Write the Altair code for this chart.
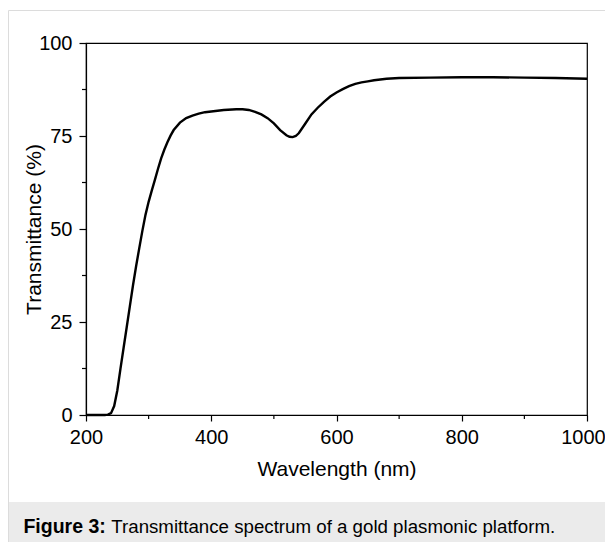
import altair as alt
import pandas as pd

# Data
wavelength = [200, 210, 220, 230, 235, 240, 245, 250, 255, 260, 265, 270, 275, 280,
              285, 290, 295, 300, 305, 310, 315, 320, 325, 330, 335, 340, 350, 360,
              370, 380, 390, 400, 420, 440, 450, 460, 470, 480, 490, 500, 510, 520,
              525, 530, 535, 540, 550, 560, 570, 580, 590, 600, 610, 620, 630, 640,
              650, 660, 680, 700, 750, 800, 850, 900, 950, 1000]
transmittance = [0, 0, 0, 0, 0.1, 0.5, 2.4, 6.6, 12.4, 18.0, 23.6, 29.2, 34.8, 40.0,
                 44.8, 49.5, 53.8, 57.3, 60.3, 63.2, 66.2, 69.0, 71.3, 73.3, 75.1, 76.6, 78.6, 79.8,
                 80.5, 81.0, 81.4, 81.6, 82.0, 82.2, 82.2, 82.0, 81.5, 80.8, 79.8, 78.4, 76.6, 75.2,
                 74.8, 74.7, 75.0, 75.8, 78.3, 80.8, 82.6, 84.2, 85.6, 86.7, 87.6, 88.4, 89.0, 89.4,
                 89.7, 90.0, 90.4, 90.6, 90.7, 90.8, 90.8, 90.7, 90.6, 90.4]

x_major = [200, 400, 600, 800, 1000]
x_minor = [300, 500, 700, 900]
y_major = [0, 25, 50, 75, 100]
y_minor = [12.5, 37.5, 62.5, 87.5]

x_title = "Wavelength (nm)"
y_title = "Transmittance (%)"
caption_bold = "Figure 3:"
caption_text = "Transmittance spectrum of a gold plasmonic platform."

FONT = "Liberation Sans"
W, H = 501, 372
PAD_L, PAD_T = 78, 35
CANVAS_W, CANVAS_H = 597, 534
PAD_R = CANVAS_W - PAD_L - W
PAD_B = CANVAS_H - PAD_T - H

df = pd.DataFrame({"wl": wavelength, "T": transmittance})
xs = alt.Scale(domain=[200, 1000], nice=False, zero=False)
ys = alt.Scale(domain=[0, 100], nice=False)

xaxis = alt.Axis(
    values=x_major, title=x_title, tickSize=6, labelPadding=6, format="d",
    labelFlush=False, labelOverlap=False, labelBound=False,
    labelOffset=alt.ExprRef("datum.value == 1000 ? -4 : 0"),
    titleX=W / 2, titleY=60.5, titleBaseline="alphabetic", titleAlign="center")
yaxis = alt.Axis(
    values=y_major, title=y_title, tickSize=7, labelPadding=7, format="d",
    labelFlush=False, labelOverlap=False, labelBound=False,
    titleX=-46, titleY=H / 2, titleAngle=270, titleBaseline="alphabetic",
    titleAlign="center")

line = alt.Chart(df).mark_line(color="black", strokeWidth=2.4).encode(
    x=alt.X("wl:Q", scale=xs, axis=xaxis),
    y=alt.Y("T:Q", scale=ys, axis=yaxis),
)

minor_x = alt.Chart(pd.DataFrame({"wl": x_minor})).mark_rule(
    color="black", strokeWidth=1.2).encode(
    x=alt.X("wl:Q", scale=xs, axis=xaxis),
    y=alt.value(H), y2=alt.value(H + 4))

minor_y = alt.Chart(pd.DataFrame({"T": y_minor})).mark_rule(
    color="black", strokeWidth=1.2).encode(
    y=alt.Y("T:Q", scale=ys, axis=yaxis),
    x=alt.value(0), x2=alt.value(-4))

one = pd.DataFrame({"a": [0]})
cap_bg = alt.Chart(one).mark_rect(color="#ebebeb").encode(
    x=alt.value(-78), x2=alt.value(CANVAS_W - PAD_L),
    y=alt.value(459), y2=alt.value(CANVAS_H - PAD_T))
border_top = alt.Chart(one).mark_rule(color="#dcdcdc", strokeWidth=1).encode(
    x=alt.value(-77.5), x2=alt.value(CANVAS_W - PAD_L), y=alt.value(-32.5))
border_left = alt.Chart(one).mark_rule(color="#dcdcdc", strokeWidth=1).encode(
    x=alt.value(-77.5), y=alt.value(-32.5), y2=alt.value(CANVAS_H - PAD_T))
cap1 = alt.Chart(one).mark_text(
    text=caption_bold, font=FONT, fontSize=19.5, fontWeight="bold",
    align="left", baseline="alphabetic", color="black").encode(
    x=alt.value(-62.6), y=alt.value(490.3))
cap2 = alt.Chart(one).mark_text(
    text=caption_text, font=FONT, fontSize=18.7, fontWeight="normal",
    align="left", baseline="alphabetic", color="black").encode(
    x=alt.value(25.3), y=alt.value(490.3))

chart = alt.layer(line, minor_x, minor_y, cap_bg, border_top, border_left, cap1, cap2).properties(
    width=W, height=H,
    autosize=alt.AutoSizeParams(type="none"),
    padding={"left": PAD_L, "top": PAD_T, "right": PAD_R, "bottom": PAD_B},
    background="white",
).configure_view(
    stroke="black", strokeWidth=1.2
).configure_axis(
    grid=False, domainColor="black", domainWidth=1.2, tickColor="black", tickWidth=1.2,
    labelColor="black", labelFont=FONT, labelFontSize=20,
    titleColor="black", titleFont=FONT, titleFontSize=21, titleFontWeight="normal",
)

chart.save("out.html", embed_options={"renderer": "svg", "actions": False})
